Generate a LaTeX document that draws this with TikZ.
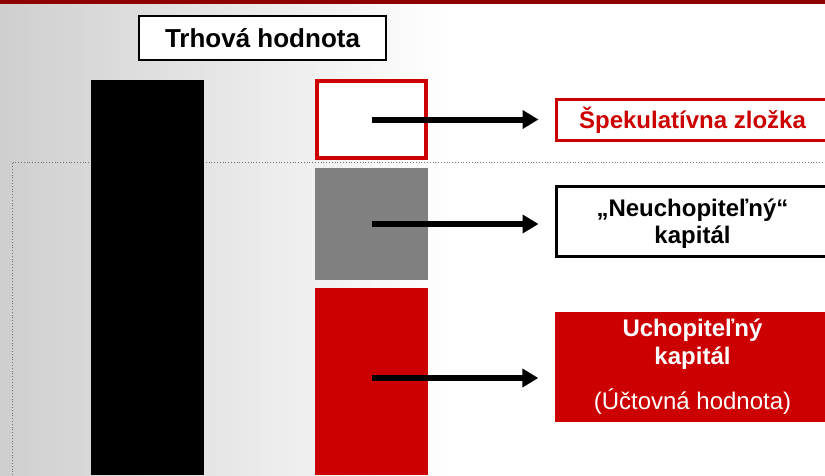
\documentclass[tikz,border=0pt]{standalone}
\usepackage{fontspec}
\setmainfont{Liberation Sans}
\usetikzlibrary{arrows.meta,positioning}
\definecolor{darkred}{HTML}{CC0000}
\definecolor{midgray}{HTML}{808080}
\tikzset{
  bar/.style={inner sep=0pt, minimum width=113pt},
  labelbox/.style={draw, line width=3pt, fill=white, minimum width=272pt, inner sep=0pt,
    align=center, font=\fontsize{24}{27}\selectfont\bfseries},
  tolabel/.style={line width=6pt, -{Triangle[length=16pt,width=18pt]}, shorten >=16.5pt},
}
\begin{document}
\begin{tikzpicture}[x=1pt,y=-1pt]
\useasboundingbox (0,0) rectangle (825,475);
\clip (0,0) rectangle (825,475);
% background
\shade[left color=black!19, right color=white] (0,0) rectangle (450,475);
\fill[white] (450,0) rectangle (825,475);
\shade[left color=darkred!70!black, middle color=darkred!45, right color=darkred!70!black] (0,0) rectangle (825,3);
\draw[black!55, dotted, line width=0.8pt] (12,475) -- (12,162) -- (825,162);
% bars
\node[fill=black, bar, minimum height=395pt] (market) at (147.5,277.5) {};
\node[draw=darkred, line width=4pt, fill=white, minimum width=109pt, minimum height=77pt, inner sep=0pt] (spec) at (371.5,119.5) {};
\node[fill=midgray, bar, minimum height=112pt] (intang) at (371.5,224) {};
\node[fill=darkred, bar, minimum height=187pt] (tang) at (371.5,381.5) {};
\coordinate (tangmid) at (371.5,378);
% labels
\node[draw, line width=2pt, fill=white, minimum width=247pt, minimum height=44pt, inner sep=0pt,
  font=\fontsize{26}{30}\selectfont\bfseries] (title) at (262.5,38) {Trhová hodnota};
\node[labelbox, draw=darkred, text=darkred, minimum height=41pt] (speclabel) at (692.5,120) {Špekulatívna zložka};
\node[labelbox, draw=black, minimum height=70pt, text depth=0pt] (intanglabel) at (692.5,221.5) {„Neuchopiteľný“\\kapitál};
\node[fill=darkred, text=white, minimum width=275pt, minimum height=110pt, inner sep=0pt, align=center,
  font=\fontsize{24}{28}\selectfont] (tanglabel) at (692.5,367) {\textbf{Uchopiteľný}\\\textbf{kapitál}\\[17pt](Účtovná hodnota)};
% arrows
\draw[tolabel] (spec.center) -- (spec.center -| speclabel.west);
\draw[tolabel] (intang.center) -- (intang.center -| intanglabel.west);
\draw[tolabel] (tangmid) -- (tangmid -| tanglabel.west);
\end{tikzpicture}
\end{document}
